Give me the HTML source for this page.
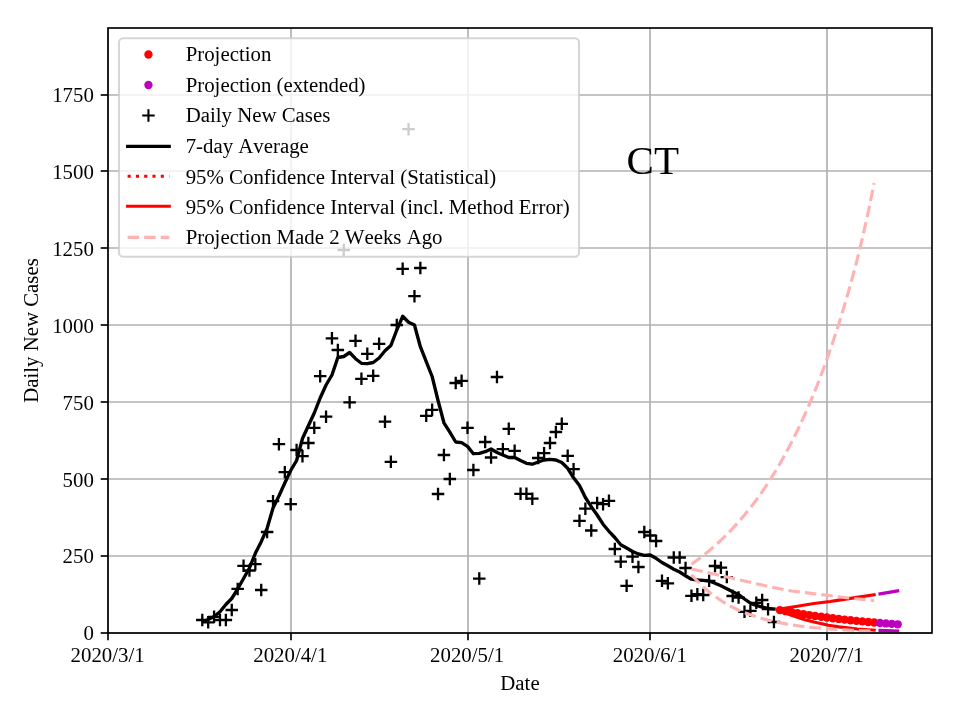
<!DOCTYPE html>
<html lang="en"><head><meta charset="utf-8"><title>CT Daily New Cases Projection</title>
<style>html,body{margin:0;padding:0;background:#fff;}body{width:960px;height:720px;overflow:hidden;}svg{display:block;will-change:transform;}text{font-family:'Liberation Serif', 'Times New Roman', Times, serif;fill:#000;font-kerning:none;}</style></head><body>
<svg width="960" height="720" viewBox="0 0 960 720">
<rect x="0" y="0" width="960" height="720" fill="#ffffff"/>
<g stroke="#b0b0b0" stroke-width="1.67" fill="none">
<line x1="108" y1="633" x2="108" y2="28"/>
<line x1="291" y1="633" x2="291" y2="28"/>
<line x1="468" y1="633" x2="468" y2="28"/>
<line x1="650" y1="633" x2="650" y2="28"/>
<line x1="827" y1="633" x2="827" y2="28"/>
<line x1="108" y1="633" x2="932" y2="633"/>
<line x1="108" y1="556" x2="932" y2="556"/>
<line x1="108" y1="479" x2="932" y2="479"/>
<line x1="108" y1="402" x2="932" y2="402"/>
<line x1="108" y1="325" x2="932" y2="325"/>
<line x1="108" y1="248" x2="932" y2="248"/>
<line x1="108" y1="171" x2="932" y2="171"/>
<line x1="108" y1="95" x2="932" y2="95"/>
</g>
<clipPath id="ax"><rect x="108" y="28" width="824" height="605"/></clipPath>
<g clip-path="url(#ax)">
<g fill="#ff0000">
<circle cx="779.85" cy="610.10" r="4.17"/>
<circle cx="785.74" cy="611.19" r="4.17"/>
<circle cx="791.63" cy="612.24" r="4.17"/>
<circle cx="797.53" cy="613.23" r="4.17"/>
<circle cx="803.42" cy="614.18" r="4.17"/>
<circle cx="809.31" cy="615.07" r="4.17"/>
<circle cx="815.21" cy="615.93" r="4.17"/>
<circle cx="821.10" cy="616.74" r="4.17"/>
<circle cx="826.99" cy="617.52" r="4.17"/>
<circle cx="832.89" cy="618.25" r="4.17"/>
<circle cx="838.78" cy="618.95" r="4.17"/>
<circle cx="844.67" cy="619.62" r="4.17"/>
<circle cx="850.57" cy="620.25" r="4.17"/>
<circle cx="856.46" cy="620.85" r="4.17"/>
<circle cx="862.36" cy="621.42" r="4.17"/>
<circle cx="868.25" cy="621.97" r="4.17"/>
<circle cx="874.14" cy="622.49" r="4.17"/>
</g>
<g fill="#bf00bf">
<circle cx="880.04" cy="622.98" r="4.17"/>
<circle cx="885.93" cy="623.45" r="4.17"/>
<circle cx="891.82" cy="623.90" r="4.17"/>
<circle cx="897.72" cy="624.32" r="4.17"/>
</g>
<path d="M196.04 620.00h12.5M202.29 613.75v12.5M201.94 622.30h12.5M208.19 616.05v12.5M207.83 616.80h12.5M214.08 610.55v12.5M213.72 620.00h12.5M219.97 613.75v12.5M219.62 620.00h12.5M225.87 613.75v12.5M225.51 610.00h12.5M231.76 603.75v12.5M231.40 588.90h12.5M237.65 582.65v12.5M237.30 565.80h12.5M243.55 559.55v12.5M243.19 570.50h12.5M249.44 564.25v12.5M249.08 564.20h12.5M255.33 557.95v12.5M254.98 590.00h12.5M261.23 583.75v12.5M260.87 532.00h12.5M267.12 525.75v12.5M266.77 501.20h12.5M273.02 494.95v12.5M272.66 444.20h12.5M278.91 437.95v12.5M278.55 472.20h12.5M284.80 465.95v12.5M284.45 504.20h12.5M290.70 497.95v12.5M290.34 450.00h12.5M296.59 443.75v12.5M296.23 456.20h12.5M302.48 449.95v12.5M302.13 443.00h12.5M308.38 436.75v12.5M308.02 427.80h12.5M314.27 421.55v12.5M313.91 376.20h12.5M320.16 369.95v12.5M319.81 416.70h12.5M326.06 410.45v12.5M325.70 338.30h12.5M331.95 332.05v12.5M331.59 350.00h12.5M337.84 343.75v12.5M337.49 250.00h12.5M343.74 243.75v12.5M343.38 402.30h12.5M349.63 396.05v12.5M349.27 340.80h12.5M355.52 334.55v12.5M355.17 378.80h12.5M361.42 372.55v12.5M361.06 353.80h12.5M367.31 347.55v12.5M366.95 375.80h12.5M373.20 369.55v12.5M372.85 343.80h12.5M379.10 337.55v12.5M378.74 421.70h12.5M384.99 415.45v12.5M384.63 461.80h12.5M390.88 455.55v12.5M390.53 325.00h12.5M396.78 318.75v12.5M396.42 268.80h12.5M402.67 262.55v12.5M402.31 129.20h12.5M408.56 122.95v12.5M408.21 296.20h12.5M414.46 289.95v12.5M414.10 268.00h12.5M420.35 261.75v12.5M419.99 415.80h12.5M426.24 409.55v12.5M425.89 409.80h12.5M432.14 403.55v12.5M431.78 494.00h12.5M438.03 487.75v12.5M437.67 455.00h12.5M443.92 448.75v12.5M443.57 479.00h12.5M449.82 472.75v12.5M449.46 383.00h12.5M455.71 376.75v12.5M455.35 380.80h12.5M461.60 374.55v12.5M461.25 427.80h12.5M467.50 421.55v12.5M467.14 470.00h12.5M473.39 463.75v12.5M473.03 578.60h12.5M479.28 572.35v12.5M478.93 442.00h12.5M485.18 435.75v12.5M484.82 457.50h12.5M491.07 451.25v12.5M490.71 377.00h12.5M496.96 370.75v12.5M496.61 449.20h12.5M502.86 442.95v12.5M502.50 428.80h12.5M508.75 422.55v12.5M508.39 450.80h12.5M514.64 444.55v12.5M514.29 493.80h12.5M520.54 487.55v12.5M520.18 493.80h12.5M526.43 487.55v12.5M526.07 498.70h12.5M532.32 492.45v12.5M531.97 458.00h12.5M538.22 451.75v12.5M537.86 453.20h12.5M544.11 446.95v12.5M543.75 443.00h12.5M550.00 436.75v12.5M549.65 432.00h12.5M555.90 425.75v12.5M555.54 423.80h12.5M561.79 417.55v12.5M561.44 455.80h12.5M567.69 449.55v12.5M567.33 469.20h12.5M573.58 462.95v12.5M573.22 520.80h12.5M579.47 514.55v12.5M579.12 508.70h12.5M585.37 502.45v12.5M585.01 530.50h12.5M591.26 524.25v12.5M590.90 503.00h12.5M597.15 496.75v12.5M596.80 504.20h12.5M603.05 497.95v12.5M602.69 500.80h12.5M608.94 494.55v12.5M608.58 549.00h12.5M614.83 542.75v12.5M614.48 561.70h12.5M620.73 555.45v12.5M620.37 585.80h12.5M626.62 579.55v12.5M626.26 556.70h12.5M632.51 550.45v12.5M632.16 567.00h12.5M638.41 560.75v12.5M638.05 532.00h12.5M644.30 525.75v12.5M643.94 535.50h12.5M650.19 529.25v12.5M649.84 541.00h12.5M656.09 534.75v12.5M655.73 580.80h12.5M661.98 574.55v12.5M661.62 583.30h12.5M667.87 577.05v12.5M667.52 557.50h12.5M673.77 551.25v12.5M673.41 557.50h12.5M679.66 551.25v12.5M679.30 568.00h12.5M685.55 561.75v12.5M685.20 595.80h12.5M691.45 589.55v12.5M691.09 594.20h12.5M697.34 587.95v12.5M696.98 595.00h12.5M703.23 588.75v12.5M702.88 580.80h12.5M709.13 574.55v12.5M708.77 566.00h12.5M715.02 559.75v12.5M714.66 567.70h12.5M720.91 561.45v12.5M720.56 577.10h12.5M726.81 570.85v12.5M726.45 596.00h12.5M732.70 589.75v12.5M732.34 597.60h12.5M738.59 591.35v12.5M738.24 611.80h12.5M744.49 605.55v12.5M744.13 610.80h12.5M750.38 604.55v12.5M750.02 602.80h12.5M756.27 596.55v12.5M755.92 600.00h12.5M762.17 593.75v12.5M761.81 609.20h12.5M768.06 602.95v12.5M767.70 622.00h12.5M773.95 615.75v12.5" stroke="#000" stroke-width="2.3" fill="none"/>
<polyline points="205.60,620.80 208.19,619.50 214.08,616.50 219.97,611.80 225.87,604.50 231.76,598.50 237.65,589.00 243.55,578.50 249.44,568.00 255.33,553.30 261.23,541.70 267.12,528.30 273.02,508.00 278.91,496.00 284.80,483.00 290.70,470.50 296.59,460.50 302.48,438.50 308.38,425.70 314.27,413.00 320.16,398.00 326.06,385.00 331.95,375.00 337.84,357.50 343.74,356.50 349.63,352.50 355.52,358.70 361.42,363.30 367.31,363.70 373.20,362.50 379.10,358.00 384.99,350.80 390.88,345.50 396.78,330.00 402.67,316.30 408.56,322.20 414.46,325.00 420.35,346.70 426.24,361.70 432.14,376.50 438.03,400.50 443.92,422.80 449.82,432.20 455.71,442.00 461.60,442.70 467.50,446.40 473.39,453.70 479.28,453.30 485.18,451.70 491.07,449.00 496.96,452.50 502.86,455.00 508.75,457.50 514.64,457.50 520.54,460.50 526.43,463.30 532.32,464.20 538.22,462.00 544.11,460.00 550.00,459.30 555.90,460.00 561.79,462.50 567.69,468.30 573.58,477.80 579.47,485.50 585.37,497.50 591.26,506.70 597.15,515.00 603.05,524.20 608.94,531.30 614.83,537.50 620.73,544.70 626.62,548.00 632.51,551.50 638.41,554.00 644.30,555.40 650.19,555.00 656.09,558.30 661.98,562.50 667.87,565.80 673.77,569.20 679.66,572.00 685.55,575.80 691.45,579.20 697.34,580.00 703.23,580.40 709.13,581.00 715.02,583.20 720.91,585.80 726.81,588.70 732.70,591.80 738.59,594.50 744.49,599.00 750.38,603.20 756.27,605.30 762.17,607.10 768.06,608.50 773.95,609.00" fill="none" stroke="#000" stroke-width="3.35" stroke-linejoin="round" stroke-linecap="square"/>
<polyline points="779.85,609.00 797.30,606.30 814.00,603.50 830.00,601.50 839.00,600.10 857.00,597.40 874.14,594.80" fill="none" stroke="#ff0000" stroke-width="3.125" stroke-linejoin="round" stroke-linecap="square"/>
<polyline points="779.85,611.00 788.00,614.00 797.30,617.20 805.00,619.80 814.00,622.10 828.30,625.30 839.00,626.90 857.50,629.00 874.14,630.10" fill="none" stroke="#ff0000" stroke-width="3.125" stroke-linejoin="round" stroke-linecap="square"/>
<polyline points="880.03,593.90 897.70,590.90" fill="none" stroke="#bf00bf" stroke-width="3.125" stroke-linejoin="round" stroke-linecap="square"/>
<polyline points="880.03,630.40 897.70,630.90" fill="none" stroke="#bf00bf" stroke-width="3.125" stroke-linejoin="round" stroke-linecap="square"/>
<polyline points="691.45,564.30 697.34,560.05 703.23,555.54 709.13,550.75 715.02,545.66 720.91,540.25 726.81,534.51 732.70,528.41 738.59,521.93 744.49,515.05 750.38,507.74 756.27,499.97 762.17,491.72 768.06,482.96 773.95,473.66 779.85,463.77 785.74,453.27 791.63,442.12 797.53,430.28 803.42,417.69 809.31,404.33 815.21,390.13 821.10,375.06 826.99,359.04 832.89,342.03 838.78,323.96 844.67,304.76 850.57,284.38 856.46,262.40 862.36,238.35 868.25,212.00 874.14,183.13" fill="none" stroke="#ffb2b2" stroke-width="3.125" stroke-linejoin="round" stroke-dasharray="11.56 5"/>
<polyline points="691.45,568.98 697.34,570.31 703.23,571.65 709.13,572.99 715.02,574.32 720.91,575.66 726.81,576.99 732.70,578.33 738.59,579.67 744.49,581.01 750.38,582.34 756.27,583.68 762.17,585.02 768.06,586.36 773.95,587.64 779.85,588.80 785.74,589.96 791.63,590.93 797.53,591.66 803.42,592.39 809.31,593.13 815.21,593.84 821.10,594.55 826.99,595.26 832.89,596.01 838.78,596.76 844.67,597.45 850.57,598.10 856.46,598.75 862.36,599.40 868.25,600.05 874.14,600.70" fill="none" stroke="#ffb2b2" stroke-width="3.125" stroke-linejoin="round" stroke-dasharray="11.56 5"/>
<polyline points="691.45,574.75 697.34,581.19 703.23,586.91 709.13,591.99 715.02,596.51 720.91,600.53 726.81,604.10 732.70,607.27 738.59,610.09 744.49,612.60 750.38,614.82 756.27,616.80 762.17,618.56 768.06,620.12 773.95,621.51 779.85,622.75 785.74,623.84 791.63,624.82 797.53,625.68 803.42,626.45 809.31,627.14 815.21,627.75 821.10,628.29 826.99,628.77 832.89,629.19 838.78,629.57 844.67,629.91 850.57,630.21 856.46,630.47 862.36,630.71 868.25,630.92 874.14,631.11" fill="none" stroke="#ffb2b2" stroke-width="3.125" stroke-linejoin="round" stroke-dasharray="11.56 5"/>
</g>
<rect x="108" y="28" width="824" height="605" fill="none" stroke="#000" stroke-width="1.67"/>
<g stroke="#000" stroke-width="1.67">
<line x1="108" y1="633" x2="108" y2="640.3"/>
<line x1="291" y1="633" x2="291" y2="640.3"/>
<line x1="468" y1="633" x2="468" y2="640.3"/>
<line x1="650" y1="633" x2="650" y2="640.3"/>
<line x1="827" y1="633" x2="827" y2="640.3"/>
<line x1="108" y1="633" x2="100.7" y2="633"/>
<line x1="108" y1="556" x2="100.7" y2="556"/>
<line x1="108" y1="479" x2="100.7" y2="479"/>
<line x1="108" y1="402" x2="100.7" y2="402"/>
<line x1="108" y1="325" x2="100.7" y2="325"/>
<line x1="108" y1="248" x2="100.7" y2="248"/>
<line x1="108" y1="171" x2="100.7" y2="171"/>
<line x1="108" y1="95" x2="100.7" y2="95"/>
</g>
<g font-size="20.83px">
<text x="107.6" y="662" text-anchor="middle">2020/3/1</text>
<text x="290.3" y="662" text-anchor="middle">2020/4/1</text>
<text x="467.1" y="662" text-anchor="middle">2020/5/1</text>
<text x="649.8" y="662" text-anchor="middle">2020/6/1</text>
<text x="826.6" y="662" text-anchor="middle">2020/7/1</text>
<text x="93.8" y="640.2" text-anchor="end">0</text>
<text x="93.8" y="563.3" text-anchor="end">250</text>
<text x="93.8" y="486.5" text-anchor="end">500</text>
<text x="93.8" y="409.6" text-anchor="end">750</text>
<text x="93.8" y="332.8" text-anchor="end">1000</text>
<text x="93.8" y="255.9" text-anchor="end">1250</text>
<text x="93.8" y="179.1" text-anchor="end">1500</text>
<text x="93.8" y="102.2" text-anchor="end">1750</text>
<text x="520" y="689.8" text-anchor="middle">Date</text>
<text transform="translate(38 330.5) rotate(-90)" text-anchor="middle">Daily New Cases</text>
</g>
<text x="626.6" y="173.9" font-size="41px">CT</text>
<rect x="119" y="38.2" width="460" height="218.6" rx="4.17" ry="4.17" fill="#ffffff" fill-opacity="0.8" stroke="#cccccc" stroke-opacity="0.8" stroke-width="2.08"/>
<circle cx="148.45" cy="54.5" r="4.17" fill="#ff0000"/>
<circle cx="148.45" cy="85" r="4.17" fill="#bf00bf"/>
<path d="M142.2 115.5h12.5M148.45 109.25v12.5" stroke="#000" stroke-width="2.08" fill="none"/>
<line x1="127.6" y1="146.4" x2="169.3" y2="146.4" stroke="#000" stroke-width="3.125" stroke-linecap="square"/>
<line x1="127.6" y1="176.3" x2="169.3" y2="176.3" stroke="#ff0000" stroke-width="3.125" stroke-dasharray="3.125 5.16"/>
<line x1="127.6" y1="206.3" x2="169.3" y2="206.3" stroke="#ff0000" stroke-width="3.125" stroke-linecap="square"/>
<line x1="127.6" y1="237.4" x2="169.3" y2="237.4" stroke="#ffb2b2" stroke-width="3.125" stroke-dasharray="11.56 5"/>
<g font-size="20.83px">
<text x="185.7" y="61.25">Projection</text>
<text x="185.7" y="91.75">Projection (extended)</text>
<text x="185.7" y="122">Daily New Cases</text>
<text x="185.7" y="153">7-day Average</text>
<text x="185.7" y="183.6">95% Confidence Interval (Statistical)</text>
<text x="185.7" y="213.7">95% Confidence Interval (incl. Method Error)</text>
<text x="185.7" y="243.75">Projection Made 2 Weeks Ago</text>
</g>
</svg></body></html>
